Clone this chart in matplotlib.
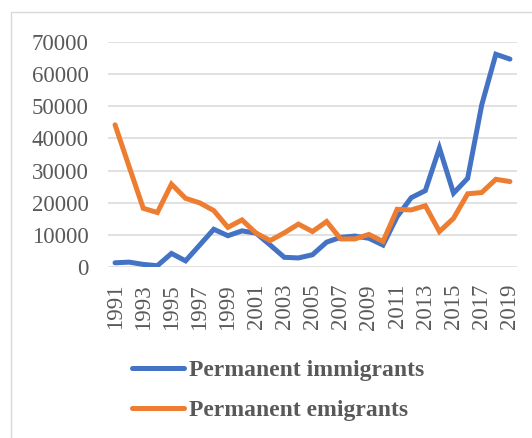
import matplotlib.pyplot as plt
from matplotlib.patches import Rectangle

plt.rcParams['font.family'] = ['Liberation Serif', 'DejaVu Serif']

years = list(range(1991, 2020))

# Permanent immigrants
immigrants = [1400, 1600, 900, 500, 4300, 2000, 6900, 11800, 9800, 11300,
              10600, 6900, 3100, 2900, 3900, 7800, 9300, 9700, 9000, 6900,
              15700, 21600, 23800, 37000, 23000, 27600, 50400, 66100, 64600]

# Permanent emigrants
emigrants = [44200, 31200, 18300, 17000, 25800, 21400, 20000, 17600, 12400, 14700,
             10600, 8300, 10700, 13400, 11100, 14200, 8800, 8800, 10200, 8000,
             18000, 17800, 19100, 11100, 15200, 22800, 23200, 27300, 26600]

yticks = [0, 10000, 20000, 30000, 40000, 50000, 60000, 70000]
xticks = years[::2]

txt = '#595959'

fig = plt.figure(figsize=(5.32, 4.38), dpi=100)
ax = fig.add_axes([108/532, 1 - 267.3/438, 409/532, (267.3 - 41.7)/438])

l1, = ax.plot(years, immigrants, color='#4472C4', lw=3.6, solid_capstyle='round',
              solid_joinstyle='miter', label='Permanent immigrants')
l2, = ax.plot(years, emigrants, color='#ED7D31', lw=3.6, solid_capstyle='round',
              solid_joinstyle='miter', label='Permanent emigrants')

ax.set_xlim(1990.5, 2019.5)
ax.set_ylim(0, 70000)
ax.set_yticks(yticks)
ax.set_yticklabels([str(v) for v in yticks])
ax.set_xticks(xticks)
ax.set_xticklabels([str(y) for y in xticks], rotation=90)
ax.tick_params(axis='y', length=0, pad=14, labelsize=16.5, labelcolor=txt)
ax.tick_params(axis='x', length=0, pad=12, labelsize=16.5, labelcolor=txt)

ax.grid(axis='y', color='#D9D9D9', lw=1.1)
ax.set_axisbelow(True)
for s in ax.spines.values():
    s.set_visible(False)

leg = fig.legend(handles=[l1, l2], loc='center left',
                 bbox_to_anchor=(132/532, (438 - 390.5)/438),
                 frameon=False, borderpad=0, borderaxespad=0,
                 handlelength=2.2, handletextpad=0.2, labelspacing=0.8,
                 prop={'size': 17, 'weight': 'bold'})
for t in leg.get_texts():
    t.set_color(txt)

# chart frame
fig.patches.append(Rectangle((10.5/532, -0.05), 1.2, 1 - 12/438 + 0.05,
                             transform=fig.transFigure, fill=False,
                             edgecolor='#D9D9D9', lw=1))

fig.savefig('out.png', dpi=100)
